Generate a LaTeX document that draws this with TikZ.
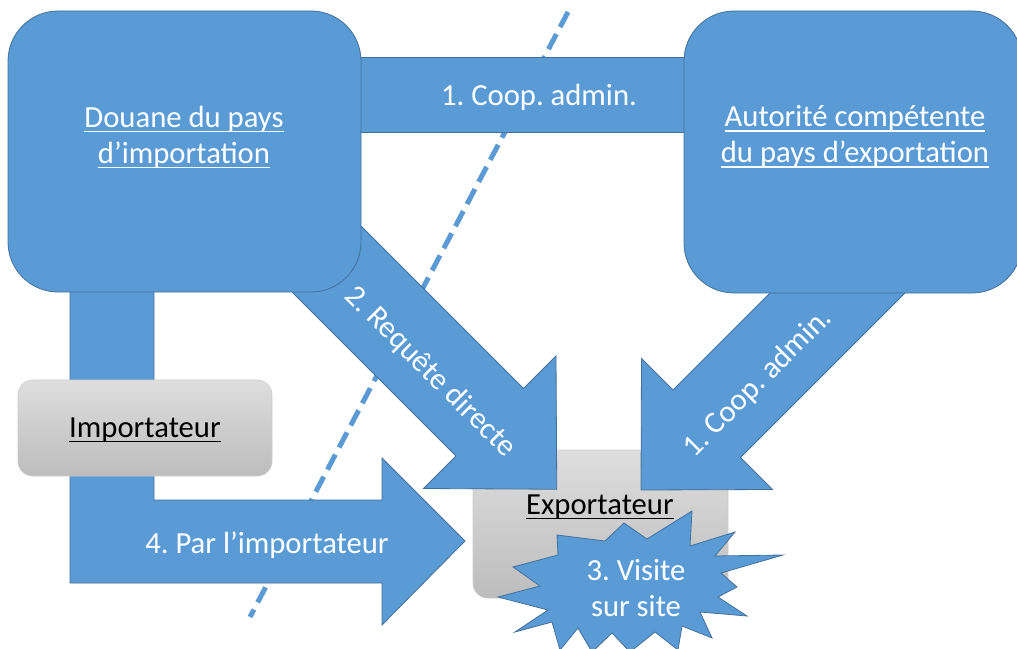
\documentclass[tikz,border=0pt]{standalone}
\usepackage{fontspec}
\setmainfont{Carlito}
\frenchspacing
\definecolor{blu}{HTML}{5B9BD5}
\definecolor{bluedge}{HTML}{41719C}
\newcommand\ulx[1]{\setbox0\hbox{#1}\rlap{\rule[-0.17em]{\wd0}{0.055em}}\box0}
\tikzset{
  blk/.style={fill=blu, draw=bluedge, line width=0.6pt, line join=miter},
  bigbox/.style={blk, rounded corners=37.5pt},
  graybox/.style={top color=black!13, bottom color=black!26, draw=black!20, line width=0.4pt, rounded corners=11pt},
  wtxt/.style={text=white, font=\fontsize{23}{27}\selectfont, align=center, inner sep=0pt},
  ktxt/.style={text=black, font=\fontsize{23}{27}\selectfont, align=center, inner sep=0pt},
  sepline/.style={draw=blu, line width=3.75pt, dash pattern=on 12.75pt off 6pt}
}
\begin{document}
\begin{tikzpicture}[x=0.75pt,y=-0.75pt]
\useasboundingbox (0,0) rectangle (1017,649);
% border line between countries
\coordinate (d1) at (568,12);
\coordinate (d2) at (250,617);
\draw[sepline] (d1) -- (d2);
% top bar (1. Coop. admin.)
\path[blk] (355,57) rectangle (690,132);
% exporter box
\path[graybox] (473,450) rectangle (728,598);
% arrow 2: direct request
\path[blk] (347.5,212.5) -- (523.5,388.5) -- (556,356) -- (556.75,489.25) -- (423.5,488.5) -- (456,456) -- (280,280) -- cycle;
% arrow 1: admin coop (diagonal)
\path[blk] (881.5,181.5) -- (673,390) -- (641.5,358.5) -- (641,490) -- (772.5,489.5) -- (740.5,457.5) -- (949,249) -- cycle;
% arrow 4: by importer
\path[blk] (70,280) -- (154,280) -- (154,500) -- (382,500) -- (382,458) -- (465,541) -- (382,625) -- (382,583) -- (70,583) -- cycle;
% main boxes
\path[bigbox] (8,11) rectangle (361,292);
\path[bigbox] (684,11) rectangle (1022,293);
% importer box
\path[graybox] (18,380) rectangle (272,476);
% star
\path[blk] (498,597) -- (540,586) -- (513,567) -- (558,555) -- (557,535) -- (605,541) -- (624,523) -- (647,539) -- (692,511) -- (690,546) -- (735,532) -- (715,556) -- (783,555) -- (721,573) -- (737,587) -- (718,597) -- (747,616) -- (700,612) -- (712,638) -- (682,626) -- (678,650) -- (655,632) -- (630,652) -- (612,633) -- (592,652) -- (578,628) -- (560,650) -- (552,622) -- (515,632) -- (548,610) -- cycle;
% texts
\node[wtxt] (douane) at (184,137) {\ulx{Douane du pays}\\\ulx{d’importation}};
\node[wtxt] (autorite) at (855,137) {\ulx{Autorité compétente}\\\ulx{du pays d’exportation}};
\node[wtxt] (coop1) at (539,97) {1. Coop. admin.};
\node[wtxt] (par) at (267,545) {4. Par l’importateur};
\node[ktxt] (imp) at (145,430) {\ulx{Importateur}};
\node[ktxt] (exp) at (600,507) {\ulx{Exportateur}};
\node[wtxt] (visite) at (636,588) {3. Visite\\sur site};
\node[wtxt, rotate=-45] (req) at (430,372) {2. Requête directe};
\node[wtxt, rotate=45] (coop2) at (758,383) {1. Coop. admin.};
\end{tikzpicture}
\end{document}
